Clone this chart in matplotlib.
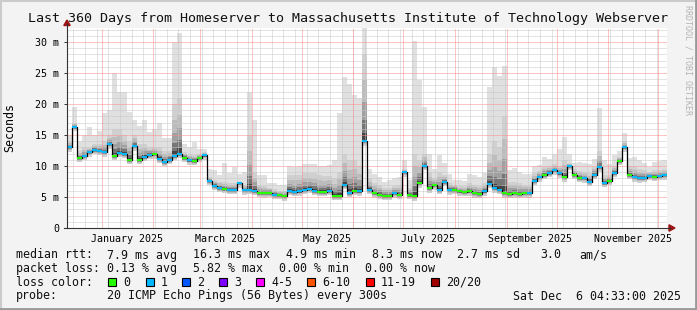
"""Smokeping style latency chart: last 360 days, Homeserver -> MIT webserver."""

import matplotlib

matplotlib.use("Agg")
import matplotlib.dates as mdates
import matplotlib.pyplot as plt
import pandas as pd
from matplotlib.lines import Line2D
from matplotlib.patches import Polygon, Rectangle

W, H = 697, 310

# one value per 3-day bucket, 120 buckets, milliseconds
median_ms = [
    13.0, 16.3, 11.3, 11.6, 12.2, 12.6, 12.5, 12.2, 13.5, 11.6,
    12.1, 12.0, 11.0, 13.2, 11.0, 11.5, 11.8, 11.9, 11.2, 10.7,
    11.0, 11.6, 12.0, 11.3, 10.9, 10.8, 11.3, 11.7, 7.6, 6.8,
    6.5, 6.3, 6.2, 6.2, 7.2, 6.1, 6.2, 6.0, 5.7, 5.6,
    5.7, 5.4, 5.3, 5.1, 6.0, 5.8, 5.9, 6.2, 6.3, 6.0,
    5.8, 5.8, 6.0, 5.2, 5.2, 7.0, 5.7, 6.0, 5.9, 14.0,
    6.2, 5.6, 5.4, 5.2, 5.2, 5.6, 5.4, 9.0, 5.3, 5.1,
    7.2, 10.0, 6.4, 6.9, 6.2, 7.4, 6.1, 6.2, 5.9, 5.8,
    5.9, 5.6, 5.5, 5.9, 7.1, 6.4, 6.2, 5.6, 5.5, 5.6,
    5.5, 5.6, 5.6, 7.6, 8.2, 8.6, 8.9, 9.3, 8.8, 8.2,
    10.0, 8.6, 8.1, 8.0, 7.5, 8.6, 9.8, 7.3, 7.6, 8.9,
    10.8, 13.0, 8.6, 8.2, 8.0, 8.1, 8.4, 8.3, 8.4, 8.5,
]
smoke_top_ms = [
    15.0, 19.5, 14.0, 15.0, 16.3, 15.0, 15.7, 18.5, 19.0, 25.0,
    22.0, 22.0, 18.7, 17.5, 16.5, 17.5, 15.5, 16.0, 17.0, 14.5,
    14.5, 30.0, 31.5, 13.5, 13.0, 13.8, 12.8, 12.8, 9.5, 9.3,
    8.5, 10.5, 8.8, 9.8, 8.7, 9.0, 22.0, 17.5, 8.5, 8.5,
    7.3, 7.2, 7.0, 7.0, 10.0, 9.8, 10.0, 10.3, 10.4, 10.3,
    10.0, 10.0, 10.2, 10.9, 18.5, 24.3, 23.3, 21.5, 21.0, 32.3,
    9.5, 8.7, 8.3, 7.5, 7.7, 8.0, 8.2, 11.0, 7.8, 30.2,
    23.8, 19.5, 12.0, 9.5, 11.8, 10.5, 8.7, 7.8, 7.7, 7.6,
    8.7, 8.5, 8.2, 8.8, 22.7, 26.0, 24.5, 26.2, 9.3, 9.6,
    9.0, 8.7, 8.7, 10.0, 10.2, 11.5, 11.2, 12.0, 12.8, 14.6,
    12.0, 10.5, 10.7, 10.5, 10.3, 11.2, 19.3, 11.0, 10.4, 11.8,
    12.5, 15.4, 11.3, 11.4, 11.0, 10.5, 9.9, 10.7, 10.8, 11.0,
]
smoke_mid_ms = [
    14.0, 17.0, 12.5, 13.0, 13.0, 13.5, 13.5, 14.0, 15.0, 16.0,
    16.0, 15.0, 14.0, 15.0, 13.5, 13.5, 13.0, 13.0, 13.0, 12.5,
    12.5, 20.0, 21.0, 12.3, 12.0, 11.8, 12.0, 12.2, 8.3, 7.8,
    7.5, 7.4, 7.2, 7.2, 7.5, 7.0, 15.0, 9.0, 7.0, 6.8,
    6.5, 6.3, 6.0, 6.0, 8.5, 8.5, 8.5, 8.8, 8.8, 8.8,
    8.5, 8.4, 8.4, 8.0, 9.0, 12.0, 11.0, 11.0, 10.0, 28.0,
    8.0, 7.3, 7.0, 6.5, 6.5, 6.8, 7.0, 9.5, 6.5, 12.0,
    11.0, 12.0, 9.0, 8.0, 9.0, 8.5, 7.3, 7.0, 6.8, 6.7,
    7.2, 7.0, 6.8, 7.2, 12.0, 14.0, 13.0, 18.0, 7.5, 7.5,
    7.3, 7.0, 7.0, 8.8, 9.2, 9.8, 10.0, 10.3, 10.0, 11.0,
    10.5, 9.5, 9.2, 9.0, 8.8, 9.8, 12.5, 8.5, 8.5, 10.0,
    11.5, 14.0, 10.0, 9.8, 9.5, 9.3, 9.0, 9.3, 9.3, 9.5,
]
# lost pings per bucket (0 -> green, 1 -> blue)
lost_pings = [
    1, 1, 0, 1, 1, 1, 1, 1, 1, 0, 1, 1, 0, 1, 0, 1, 1, 0, 1, 1,
    1, 1, 1, 0, 1, 0, 0, 1, 1, 1, 1, 0, 1, 1, 1, 1, 1, 1, 0, 0,
    0, 1, 0, 0, 1, 1, 1, 1, 1, 1, 0, 0, 1, 0, 0, 1, 1, 0, 1, 1,
    1, 0, 0, 0, 0, 1, 0, 1, 0, 0, 0, 1, 0, 0, 1, 1, 1, 0, 0, 0,
    0, 0, 0, 1, 1, 1, 1, 0, 0, 0, 0, 0, 1, 1, 1, 0, 1, 1, 1, 0,
    1, 0, 0, 1, 1, 1, 1, 1, 0, 1, 0, 1, 0, 1, 1, 1, 1, 0, 1, 1,
]

y_ticks = [0, 5, 10, 15, 20, 25, 30]
y_tick_labels = ["0", "5 m", "10 m", "15 m", "20 m", "25 m", "30 m"]
month_labels = ["January 2025", "March 2025", "May 2025",
                "July 2025", "September 2025", "November 2025"]
month_label_dates = ["2025-01-16", "2025-03-16", "2025-05-16",
                     "2025-07-16", "2025-09-15", "2025-11-16"]

loss_names = ["0", "1", "2", "3", "4-5", "6-10", "11-19", "20/20"]
loss_colors = ["#26ff00", "#00b8ff", "#0059ff", "#7e00ff",
               "#ff00ff", "#ff5500", "#ff0000", "#a10000"]

START = pd.Timestamp("2024-12-11 04:33")
END = pd.Timestamp("2025-12-06 04:33")
Y_MAX = 200 / 6.2
SMOKE_BELOW = 0.7


def fx(px):
    return px / W


def fy(py):
    return 1 - py / H


plt.rcParams["font.family"] = ["DejaVu Sans Mono"]

fig = plt.figure(figsize=(W / 100, H / 100), dpi=100, facecolor="#f3f3f3")

# frame shading
fig.add_artist(Line2D([fx(0.5), fx(0.5)], [0, 1], transform=fig.transFigure, color="#cbcbcb", lw=1.5))
fig.add_artist(Line2D([0, 1], [fy(0.5), fy(0.5)], transform=fig.transFigure, color="#cbcbcb", lw=1.5))
fig.add_artist(Line2D([fx(W - 1), fx(W - 1)], [0, 1], transform=fig.transFigure, color="#999999", lw=2))
fig.add_artist(Line2D([0, 1], [fy(H - 1), fy(H - 1)], transform=fig.transFigure, color="#999999", lw=2))

ax = fig.add_axes([fx(67), fy(228), 600 / W, 200 / H])
ax.set_facecolor("white")
for s in ax.spines.values():
    s.set_visible(False)

edges = mdates.date2num(pd.date_range(START, periods=len(median_ms) + 1, freq="3D").to_pydatetime())


def ext(vals):
    return list(vals) + [vals[-1]]


low = [m - SMOKE_BELOW for m in median_ms]
ax.fill_between(edges, ext(low), ext(smoke_top_ms), step="post", color="#e0e0e0", lw=0, zorder=1)
shades = [(1.0, "#d0d0d0"), (0.7, "#bcbcbc"), (0.45, "#a0a0a0"), (0.25, "#767676"), (0.1, "#444444")]
for frac, col in shades:
    up = [m + (t - m) * frac for m, t in zip(median_ms, smoke_mid_ms)]
    dn = [m - SMOKE_BELOW * frac for m in median_ms]
    ax.fill_between(edges, ext(dn), ext(up), step="post", color=col, lw=0, zorder=2)

# grid on top of the smoke
weeks = pd.date_range("2024-12-15", END, freq="7D")
months = pd.date_range("2025-01-01", END, freq="MS")
for d in weeks:
    ax.axvline(mdates.date2num(d), color="#c8c8c8", lw=0.72, ls=(0, (1, 1)), zorder=4)
for v in range(1, 33):
    if v % 5:
        ax.axhline(v, color="#c8c8c8", lw=0.72, ls=(0, (1, 1)), zorder=4)
for d in months:
    ax.axvline(mdates.date2num(d), color="#ff8c8c", lw=0.72, ls=(0, (1, 1)), zorder=5)
for v in y_ticks[1:]:
    ax.axhline(v, color="#ff8c8c", lw=0.72, ls=(0, (1, 1)), zorder=5)

# median line coloured by loss
ax.step(edges, ext(median_ms), where="post", color="black", lw=0.9, zorder=6)
ax.hlines(median_ms, edges[:-1], edges[1:], colors=[loss_colors[n] for n in lost_pings],
          lw=1.5, zorder=7)

ax.set_xlim(edges[0], edges[-1])
ax.set_ylim(0, Y_MAX)
ax.set_yticks(y_ticks)
ax.set_yticklabels(y_tick_labels, fontsize=7.2)
ax.tick_params(axis="y", length=2, width=0.7, pad=3.6, color="#333333")
ax.set_xticks(mdates.date2num(pd.to_datetime(month_label_dates).to_pydatetime()))
ax.set_xticklabels(month_labels, fontsize=7.2)
ax.tick_params(axis="x", length=0, pad=4.0)
ax.set_ylabel("Seconds", fontsize=8.4, labelpad=14)

# axes with arrows
fig.add_artist(Line2D([fx(67), fx(67)], [fy(228), fy(24)], transform=fig.transFigure, color="#333333", lw=0.8))
fig.add_artist(Line2D([fx(64), fx(670)], [fy(228), fy(228)], transform=fig.transFigure, color="#333333", lw=0.8))
fig.add_artist(Polygon([[fx(63.8), fy(25.5)], [fx(70.2), fy(25.5)], [fx(67), fy(20)]],
                       closed=True, transform=fig.transFigure, color="#9b1515"))
fig.add_artist(Polygon([[fx(669), fy(224.8)], [fx(669), fy(231.2)], [fx(675), fy(228)]],
                       closed=True, transform=fig.transFigure, color="#9b1515"))

fig.text(0.5, fy(18.5), "Last 360 Days from Homeserver to Massachusetts Institute of Technology Webserver",
         ha="center", va="center", fontsize=9.6, color="#111111")
fig.text(fx(688), fy(60), "RRDTOOL / TOBI OETIKER", rotation=-90, ha="center", va="center",
         fontsize=6, color="#b4b4b4")

TXT = dict(fontsize=8.4, va="center", color="#111111")
row1 = [(16, "median rtt:"), (107, "7.9 ms avg"), (193, "16.3 ms max"), (286, "4.9 ms min"),
        (372, "8.3 ms now"), (457, "2.7 ms sd"), (540, "3.0"), (579, "am/s")]
row2 = [(16, "packet loss:"), (107, "0.13 % avg"), (193, "5.82 % max"), (279, "0.00 % min"),
        (365, "0.00 % now")]
row4 = [(16, "probe:"), (107, "20 ICMP Echo Pings (56 Bytes) every 300s"), (513, "Sat Dec  6 04:33:00 2025")]
for px, s in row1:
    fig.text(fx(px), fy(255), s, **TXT)
for px, s in row2:
    fig.text(fx(px), fy(268.5), s, **TXT)
for px, s in row4:
    fig.text(fx(px), fy(296), s, **TXT)

fig.text(fx(16), fy(282), "loss color:", **TXT)
box_x = [108, 146, 182, 219, 256, 307, 366, 431]
for bx, name, col in zip(box_x, loss_names, loss_colors):
    fig.add_artist(Rectangle((fx(bx), fy(286)), 8 / W, 8 / H, transform=fig.transFigure,
                             facecolor=col, edgecolor="black", lw=0.8))
    fig.text(fx(bx + 15), fy(282), name, **TXT)

fig.savefig("out.png", dpi=100, facecolor=fig.get_facecolor())
